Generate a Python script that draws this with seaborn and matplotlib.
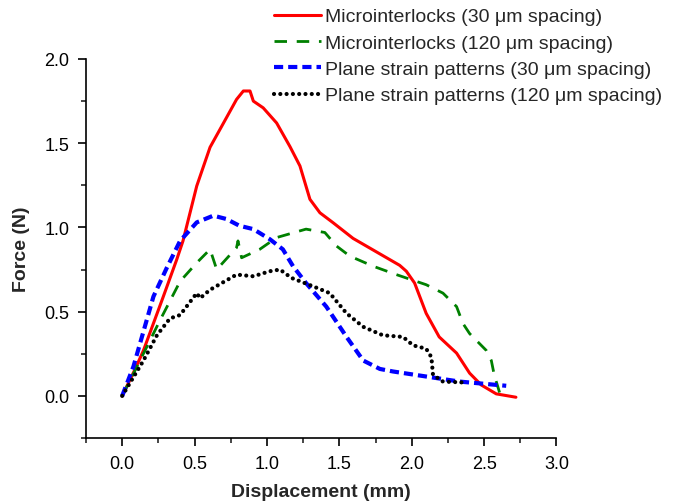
import matplotlib
matplotlib.use("Agg")
import matplotlib.pyplot as plt
from matplotlib.ticker import MultipleLocator, FormatStrFormatter
import seaborn as sns
import pandas as pd

# ---- data ----
red_x = [0.0, 0.09, 0.147, 0.28, 0.377, 0.42, 0.515, 0.607, 0.70, 0.79, 0.837, 0.883, 0.906,
         0.974, 1.067, 1.159, 1.228, 1.297, 1.366, 1.457, 1.595, 1.756, 1.917, 1.963, 2.02,
         2.10, 2.19, 2.31, 2.40, 2.48, 2.584, 2.72]
red_y = [0.0, 0.16, 0.27, 0.58, 0.81, 0.92, 1.246, 1.476, 1.62, 1.76, 1.81, 1.81, 1.75,
         1.71, 1.62, 1.48, 1.365, 1.167, 1.087, 1.028, 0.935, 0.855, 0.775, 0.74, 0.67,
         0.49, 0.35, 0.254, 0.135, 0.065, 0.012, -0.008]

green_x = [0.0, 0.1, 0.262, 0.40, 0.515, 0.607, 0.653, 0.79, 0.80, 0.825, 0.95, 1.067,
           1.27, 1.40, 1.48, 1.572, 1.733, 1.894, 2.10, 2.216, 2.31, 2.354, 2.40, 2.515,
           2.55, 2.57, 2.607]
green_y = [0.0, 0.17, 0.45, 0.68, 0.79, 0.87, 0.75, 0.88, 0.92, 0.82, 0.87, 0.94,
           0.99, 0.97, 0.89, 0.83, 0.77, 0.72, 0.66, 0.61, 0.53, 0.43, 0.37, 0.27,
           0.21, 0.125, 0.02]

blue_x = [0.0, 0.078, 0.216, 0.308, 0.40, 0.515, 0.63, 0.72, 0.81, 0.906, 1.02, 1.11, 1.18,
          1.27, 1.41, 1.55, 1.665, 1.78, 1.87, 2.10, 2.33, 2.653]
blue_y = [0.0, 0.175, 0.59, 0.76, 0.92, 1.03, 1.07, 1.05, 1.01, 0.99, 0.93, 0.87, 0.77,
          0.67, 0.53, 0.35, 0.21, 0.16, 0.145, 0.115, 0.085, 0.06]

black_x = [0.0, 0.147, 0.24, 0.33, 0.40, 0.515, 0.538, 0.607, 0.79, 0.906, 1.02, 1.09, 1.17,
           1.32, 1.434, 1.55, 1.665, 1.80, 1.94, 2.01, 2.10, 2.136, 2.147, 2.216, 2.354]
black_y = [0.0, 0.21, 0.36, 0.46, 0.48, 0.61, 0.58, 0.63, 0.72, 0.71, 0.74, 0.75, 0.70,
           0.65, 0.61, 0.49, 0.41, 0.36, 0.35, 0.30, 0.28, 0.23, 0.125, 0.085, 0.08]

labels = ["Microinterlocks (30 \u03bcm spacing)",
          "Microinterlocks (120 \u03bcm spacing)",
          "Plane strain patterns (30 \u03bcm spacing)",
          "Plane strain patterns (120 \u03bcm spacing)"]

x_label = "Displacement (mm)"
y_label = "Force (N)"

# ---- style ----
sns.set_style("ticks")
plt.rcParams["font.family"] = ["Liberation Sans", "DejaVu Sans"]

fig = plt.figure(figsize=(6.74, 5.02), dpi=100)
ax = fig.add_axes([0.1276, 0.1255, 0.698, 0.755])

series = [(red_x, red_y), (green_x, green_y), (blue_x, blue_y), (black_x, black_y)]
colors = ["#FF0000", "#008000", "#0000FF", "#000000"]
widths = [2.2, 2.0, 3.0, 3.0]
styles = ["-", (0, (4.5, 3.5)), (0, (2.2, 1.2)), (0, (0.01, 1.5))]

for (xs, ys), lab, c, lw, ls in zip(series, labels, colors, widths, styles):
    df = pd.DataFrame({"x": xs, "y": ys})
    sns.lineplot(data=df, x="x", y="y", ax=ax, color=c, linewidth=lw,
                 linestyle=ls, sort=False, estimator=None, label=lab)

ax.get_lines()[3].set_dash_capstyle("round")

ax.set_xlim(-0.25, 3.0)
ax.set_ylim(-0.25, 2.0)
ax.xaxis.set_major_locator(MultipleLocator(0.5))
ax.xaxis.set_minor_locator(MultipleLocator(0.25))
ax.yaxis.set_major_locator(MultipleLocator(0.5))
ax.yaxis.set_minor_locator(MultipleLocator(0.25))
ax.xaxis.set_major_formatter(FormatStrFormatter("%.1f"))
ax.yaxis.set_major_formatter(FormatStrFormatter("%.1f"))
ax.tick_params(axis="both", which="major", direction="out", length=6, width=1.2,
               labelsize=13, colors="black", pad=6)
ax.tick_params(axis="both", which="minor", direction="out", length=3.5, width=1.2)
ax.set_xlabel(x_label, fontsize=14, fontweight="bold", labelpad=8)
ax.set_ylabel(y_label, fontsize=14, fontweight="bold", labelpad=10)
for s in ["left", "bottom"]:
    ax.spines[s].set_linewidth(1.2)
    ax.spines[s].set_color("black")
sns.despine(ax=ax)

leg = ax.legend(loc="upper left", bbox_to_anchor=(0.395, 0.998),
                bbox_transform=fig.transFigure, frameon=False, fontsize=14,
                handlelength=2.4, handletextpad=0.2, labelspacing=0.45,
                borderaxespad=0)
leg.get_lines()[3].set_dash_capstyle("round")

fig.savefig("out.png", dpi=100)
